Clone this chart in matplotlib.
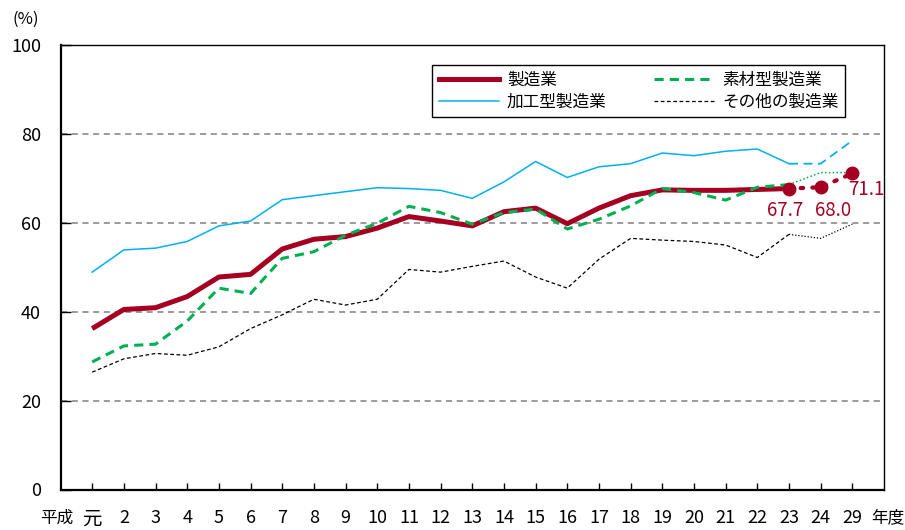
import matplotlib
matplotlib.use("Agg")
import matplotlib.pyplot as plt
from matplotlib.lines import Line2D

plt.rcParams['font.family'] = ['Noto Sans CJK JP', 'DejaVu Sans']

years = ["元", "2", "3", "4", "5", "6", "7", "8", "9", "10", "11", "12", "13",
         "14", "15", "16", "17", "18", "19", "20", "21", "22", "23", "24", "29"]

seizo = [36.2, 40.5, 40.9, 43.4, 47.8, 48.4, 54.1, 56.3, 56.9, 58.8,
         61.4, 60.4, 59.3, 62.5, 63.3, 59.8, 63.3, 66.1, 67.4, 67.3, 67.3, 67.5,
         67.7, 68.0, 71.1]
sozai = [28.7, 32.3, 32.7, 37.9, 45.3, 44.1, 52.0, 53.5, 57.2, 59.9,
         63.7, 62.3, 59.7, 62.3, 63.1, 58.6, 60.8, 63.8, 67.7, 66.8, 65.1, 68.0,
         68.6, 71.3, 71.3]
kako = [48.9, 53.9, 54.3, 55.8, 59.3, 60.4, 65.2, 66.1, 67.0, 67.9,
        67.7, 67.3, 65.5, 69.2, 73.8, 70.2, 72.6, 73.3, 75.7, 75.1, 76.1, 76.6,
        73.3, 73.3, 78.5]
sonota = [26.4, 29.4, 30.6, 30.2, 32.1, 36.2, 39.3, 42.8, 41.5, 42.8,
          49.5, 48.9, 50.2, 51.4, 47.8, 45.3, 51.8, 56.5, 56.1, 55.8, 55.0, 52.2,
          57.4, 56.5, 59.7]

names = ["製造業", "加工型製造業", "素材型製造業", "その他の製造業"]

RED = "#A50021"
GREEN = "#00B050"
BLUE = "#00B0F0"

fig = plt.figure(figsize=(9.05, 5.3), dpi=100)
ax = fig.add_axes([60.5/905, 1-489.5/530, (884-60.5)/905, (489.5-45)/530])

x = list(range(len(years)))
s = 22  # split index (year 23)

# grid
for gy in [20, 40, 60, 80]:
    ax.axhline(gy, color="#808080", lw=1.1, ls=(0, (4, 3)), zorder=0)

# other
ax.plot(x[:s+1], sonota[:s+1], color="black", lw=0.9, ls=(0, (3, 2)), zorder=2)
ax.plot(x[s:], sonota[s:], color="black", lw=0.9, ls=(0, (1, 1.5)), zorder=2)
# kako
ax.plot(x[:s+1], kako[:s+1], color=BLUE, lw=1.1, zorder=2)
ax.plot(x[s:], kako[s:], color=BLUE, lw=1.3, ls=(0, (5, 3)), zorder=2)
# red
ax.plot(x[:s+1], seizo[:s+1], color=RED, lw=3.6, solid_capstyle='butt', zorder=3)
ax.plot(x[s:], seizo[s:], color=RED, lw=3.0, ls=(0, (0.6, 2.2)),
        dash_capstyle='round', zorder=3)
ax.plot(x[s:], seizo[s:], ls='none', marker='o', ms=9, color=RED, zorder=5)
# green
ax.plot(x[:s+1], sozai[:s+1], color=GREEN, lw=2.2, ls=(0, (3, 2)), zorder=4)
ax.plot(x[s:], sozai[s:], color=GREEN, lw=1.1, ls=(0, (1, 1.5)), zorder=4)

# value labels
ax.text(x[22] - 0.12, 62.8, f"{seizo[22]:.1f}", color=RED, fontsize=13.5, ha='center', va='center')
ax.text(x[23] + 0.40, 62.8, f"{seizo[23]:.1f}", color=RED, fontsize=13.5, ha='center', va='center')
ax.text(x[24] + 0.44, 67.5, f"{seizo[24]:.1f}", color=RED, fontsize=13.5, ha='center', va='center')

ax.set_xlim(-1, 25)
ax.set_ylim(0, 100)
ax.set_yticks([0, 20, 40, 60, 80, 100])
ax.set_yticklabels(["0", "20", "40", "60", "80", "100"], fontsize=13)
ax.set_xticks(x)
ax.set_xticklabels(years, fontsize=13)
ax.get_xticklabels()[0].set_fontsize(14)
ax.tick_params(axis='x', direction='in', length=5, width=1, pad=14)
ax.tick_params(axis='y', direction='in', length=7, width=1, pad=14)
for sp in ax.spines.values():
    sp.set_linewidth(1.0)
ax.spines['left'].set_linewidth(1.6)
ax.spines['bottom'].set_linewidth(1.6)

fig.text(26/905, 1-19/530, "(%)", fontsize=12, ha='center', va='center')
fig.text(57/905, 1-518/530, "平成", fontsize=12, ha='center', va='center')
fig.text(888/905, 1-518/530, "年度", fontsize=12, ha='center', va='center')

handles = [
    Line2D([], [], color=RED, lw=3.6),
    Line2D([], [], color=BLUE, lw=1.1),
    Line2D([], [], color=GREEN, lw=2.2, ls=(0, (3, 2))),
    Line2D([], [], color="black", lw=0.9, ls=(0, (3, 2))),
]
leg = ax.legend(handles, names, ncol=2, loc='lower left',
                bbox_to_anchor=(0.451, 0.838, 0.502, 0.119), mode='expand',
                borderaxespad=0, fancybox=False, edgecolor='black', framealpha=1,
                fontsize=12, handlelength=3.6, handletextpad=0.5,
                labelspacing=0.3, borderpad=0.4, columnspacing=2.0)
leg.get_frame().set_linewidth(1.0)

fig.savefig("out.png", dpi=100)
